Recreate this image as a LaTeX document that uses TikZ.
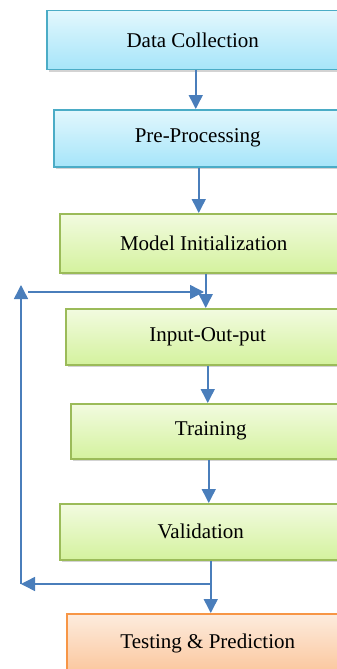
\documentclass[tikz,border=0pt]{standalone}
\usepackage{fontspec}
\setmainfont{Liberation Serif}
\usetikzlibrary{arrows.meta,shadows}
\definecolor{flowblue}{RGB}{74,126,187}
\begin{document}
\begin{tikzpicture}[x=1pt,y=-1pt,
  box/.style={anchor=north west,draw,line width=1.5pt,inner sep=0pt,
    font=\fontsize{21}{25}\selectfont,
    drop shadow={shadow xshift=2pt,shadow yshift=-2.5pt,opacity=0.35}},
  bluebox/.style={box,draw={rgb,255:red,75;green,172;blue,198},
    top color={rgb,255:red,226;green,247;blue,253},bottom color={rgb,255:red,166;green,229;blue,249}},
  greenbox/.style={box,draw={rgb,255:red,155;green,187;blue,89},
    top color={rgb,255:red,242;green,251;blue,224},bottom color={rgb,255:red,212;green,242;blue,158}},
  orangebox/.style={box,draw={rgb,255:red,247;green,150;blue,70},
    top color={rgb,255:red,253;green,236;blue,222},bottom color={rgb,255:red,251;green,198;blue,156}},
  flow/.style={draw=flowblue,line width=1.5pt,-{Triangle[width=14pt,length=14pt]}}]
\clip (0,0) rectangle (337,669);
\useasboundingbox (0,0) rectangle (337,669);
\node (dc) [bluebox,minimum width=292pt,minimum height=59pt] at (46,10) {Data Collection};
\node (pp) [bluebox,minimum width=288pt,minimum height=57pt] at (53,109) {Pre-Processing};
\node (mi) [greenbox,minimum width=288pt,minimum height=59pt] at (59,213) {Model Initialization};
\node (io) [greenbox,minimum width=284pt,minimum height=56pt] at (65,308) {Input-Out-put};
\node (tr) [greenbox,minimum width=280pt,minimum height=55pt] at (70,403) {Training};
\node (va) [greenbox,minimum width=282pt,minimum height=56pt] at (59,503) {Validation};
\node (tp) [orangebox,minimum width=282pt,minimum height=60pt] at (66,613) {Testing \& Prediction};
\draw [flow] ([xshift=3pt]dc.south) -- ([xshift=-2pt]pp.north);
\draw [flow] ([xshift=1pt]pp.south) -- ([xshift=-5pt]mi.north);
\draw [flow] ([xshift=2pt]mi.south) -- ([xshift=-2pt]io.north);
\draw [flow] (io.south) -- ([xshift=-3pt]tr.north);
\draw [flow] ([xshift=-2pt]tr.south) -- ([xshift=8pt]va.north);
\draw [flow] ([xshift=10pt]va.south) -- ([xshift=3pt]tp.north);
% loop back
\coordinate (fb) at (210,584);
\coordinate (cornerB) at (21,584);
\coordinate (cornerT) at (21,285);
\coordinate (back) at (28,292);
\coordinate (join) at (204,292);
\draw [flow] (fb) -- (cornerB);
\draw [flow] (cornerB) -- (cornerT);
\draw [flow] (back) -- (join);
\end{tikzpicture}
\end{document}
